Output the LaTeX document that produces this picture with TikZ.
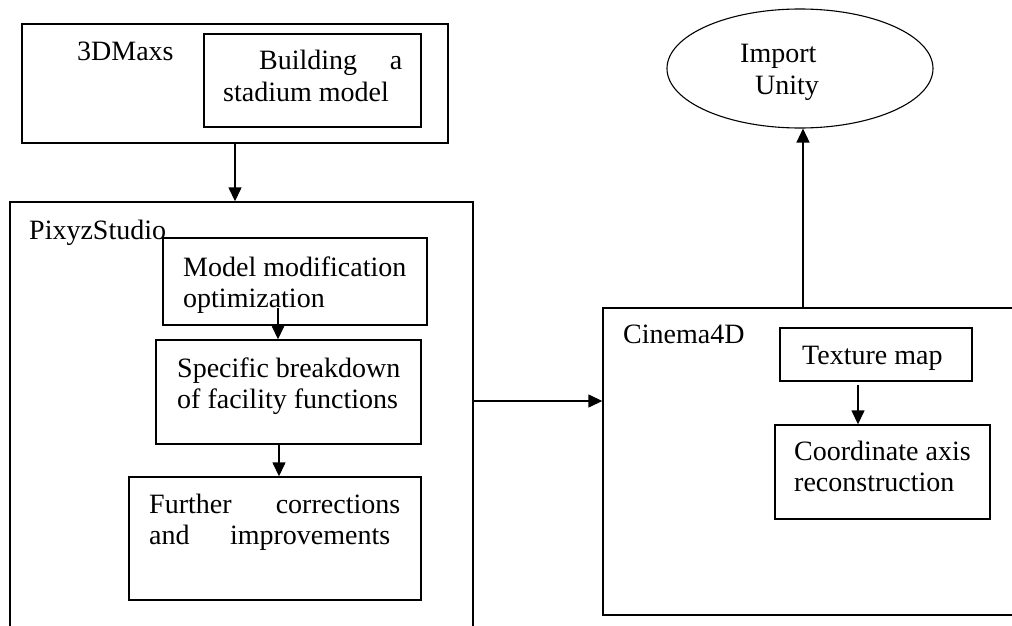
\documentclass[tikz,border=0pt]{standalone}
\usepackage{fontspec}
\setmainfont{Liberation Serif}
\usetikzlibrary{arrows.meta,shapes.geometric}
\begin{document}
\begin{tikzpicture}[x=1pt,y=-1pt,
  box/.style={draw,line width=1.4pt,rectangle,inner sep=0pt},
  lbl/.style={anchor=base west,inner sep=0pt,font=\fontsize{28pt}{31.5pt}\selectfont},
  arr/.style={line width=1.4pt,-{Triangle[length=14pt,width=13pt]}}]
\clip (0,0) rectangle (1012,626);
\fill[white] (0,0) rectangle (1012,626);
% boxes
\node[box,minimum width=426pt,minimum height=119pt] (b3d) at (235,83.5) {};
\node[box,minimum width=217pt,minimum height=93pt] (build) at (312.5,80.5) {};
\node[box,minimum width=463pt,minimum height=438pt] (pixyz) at (241.5,421) {};
\node[box,minimum width=264pt,minimum height=87pt] (model) at (295,281.5) {};
\node[box,minimum width=265pt,minimum height=104pt] (spec) at (288.5,392) {};
\node[box,minimum width=292pt,minimum height=123pt] (further) at (275,538.5) {};
\node[box,minimum width=427pt,minimum height=307pt] (cinema) at (816.5,461.5) {};
\node[box,minimum width=192pt,minimum height=53pt] (texture) at (876,354.5) {};
\node[box,minimum width=215pt,minimum height=94pt] (coord) at (882.5,472) {};
\node[draw,line width=1.1pt,ellipse,inner sep=0pt,minimum width=266pt,minimum height=119pt] (unity) at (800,68.5) {};
% texts
\node[lbl] (t3d) at (77,60) {3DMaxs};
\node[lbl] (tb1) at (259,70) {\makebox[143pt][s]{Building a}};
\node[lbl] (tb2) at (223,102) {stadium model};
\node[lbl] (tpx) at (29,239) {PixyzStudio};
\node[lbl] (tm1) at (183,276) {Model modification};
\node[lbl] (tm2) at (183,307) {optimization};
\node[lbl] (ts1) at (177,377) {Specific breakdown};
\node[lbl] (ts2) at (177,408) {of facility functions};
\node[lbl] (tf1) at (149,513) {\makebox[251pt][s]{Further corrections}};
\node[lbl] (tf2) at (149,544) {\makebox[241pt][s]{and improvements}};
\node[lbl] (tu1) at (740,63) {Import};
\node[lbl] (tu2) at (755,95) {Unity};
\node[lbl] (tc) at (623,343) {Cinema4D};
\node[lbl] (tt) at (802,364) {Texture map};
\node[lbl] (tk1) at (794,460) {Coordinate axis};
\node[lbl] (tk2) at (794,491) {reconstruction};
% connectors
\draw[arr] (b3d.south) -- (b3d.south |- pixyz.north);
\coordinate (m1) at (278,308);
\draw[arr] (m1) -- (m1 |- spec.north);
\draw[arr] (spec.south -| 279,0) -- (further.north -| 279,0);
\draw[arr] (pixyz.east |- 0,401) -- (cinema.west |- 0,401);
\draw[arr] (cinema.north -| 803,0) -- (unity.south -| 803,0);
\draw[arr,shorten <=3pt] (texture.south -| 858,0) -- (coord.north -| 858,0);
\end{tikzpicture}
\end{document}
